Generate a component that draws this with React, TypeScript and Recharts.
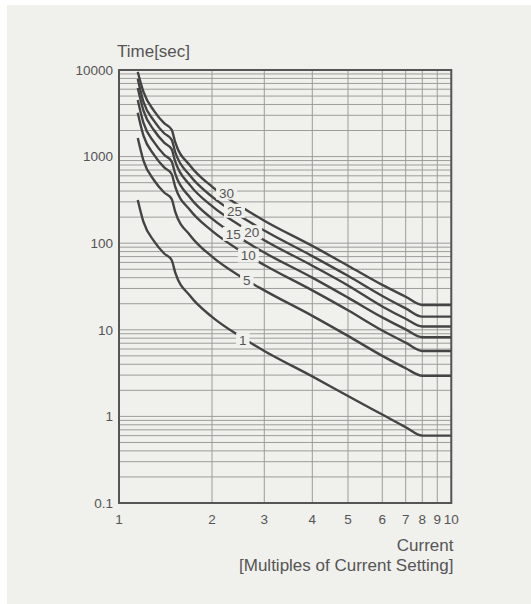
import { LineChart, Line, XAxis, YAxis, CartesianGrid, ReferenceArea, ReferenceDot } from "recharts";

// current multiples on the x axis and where the printed chart put each of them
// (the original grid is not a true log scale, so the axis is piecewise log)
const X_TICKS = [1, 2, 3, 4, 5, 6, 7, 8, 9, 10];
const X_TICK_AT = [0, 0.2799, 0.4372, 0.5817, 0.6891, 0.7923, 0.8627, 0.9127, 0.9578, 1];

const Y_TICKS = [0.1, 1, 10, 100, 1000, 10000];
const Y_MINOR = [2, 3, 4, 5, 6, 7, 8, 9];

const CURRENT = [1.15, 1.2, 1.3, 1.4, 1.48, 1.52, 1.7, 2, 2.5, 3, 4, 5, 6, 7, 8, 10];

const T1 = [315, 176, 105, 76, 64, 46, 24.5, 14.1, 8.3, 5.7, 2.9, 1.72, 1.05, 0.75, 0.6, 0.6];
const T5 = [1640, 900, 530, 385, 325, 232, 123, 70, 41, 28.5, 14.5, 8.5, 5.0, 3.6, 2.95, 2.95];
const T10 = [3200, 1750, 1040, 750, 630, 450, 240, 139, 81, 56, 28.5, 16.8, 9.8, 7.1, 5.7, 5.7];
const T15 = [4500, 2450, 1460, 1050, 880, 635, 335, 192, 113, 78, 40, 23.5, 13.9, 10.1, 8.2, 8.2];
const T20 = [6200, 3400, 2000, 1450, 1220, 880, 465, 268, 158, 108, 55, 32.5, 18.6, 13.4, 10.9, 10.9];
const T25 = [7900, 4300, 2570, 1860, 1570, 1130, 600, 345, 203, 140, 71, 42, 24.6, 17.7, 14.2, 14.2];
const T30 = [9500, 5600, 3350, 2430, 2050, 1470, 785, 450, 265, 182, 93, 55, 33, 24.1, 19.3, 19.3];

const CURVES = [
  { name: "1", values: T1 },
  { name: "5", values: T5 },
  { name: "10", values: T10 },
  { name: "15", values: T15 },
  { name: "20", values: T20 },
  { name: "25", values: T25 },
  { name: "30", values: T30 },
];

// where each curve's number sits (current, time)
const CURVE_LABELS = [
  { text: "30", x: 2.24, t: 383 },
  { text: "25", x: 2.38, t: 237 },
  { text: "15", x: 2.36, t: 128 },
  { text: "20", x: 2.72, t: 134 },
  { text: "10", x: 2.65, t: 72 },
  { text: "5", x: 2.62, t: 37 },
  { text: "1", x: 2.54, t: 7.6 },
];

const PANEL = "#f0f0ec";
const INK = "#555";
const CURVE_INK = "#444";
const FONT = '"Liberation Sans", Arial, Helvetica, sans-serif';

function toAxis(x: number) {
  for (let i = 0; i < X_TICKS.length - 1; i++) {
    const a = X_TICKS[i];
    const b = X_TICKS[i + 1];
    if (x <= b || i === X_TICKS.length - 2) {
      const f = Math.log(x / a) / Math.log(b / a);
      return X_TICK_AT[i] + f * (X_TICK_AT[i + 1] - X_TICK_AT[i]);
    }
  }
  return 1;
}

const yGrid: number[] = [];
for (const d of [0.1, 1, 10, 100, 1000]) {
  yGrid.push(d);
  for (const m of Y_MINOR) yGrid.push(d * m);
}
yGrid.push(10000);

function fmtX(u: number) {
  const i = X_TICK_AT.findIndex((p) => Math.abs(p - u) < 1e-6);
  return i >= 0 ? String(X_TICKS[i]) : "";
}

function fmtY(v: number) {
  return v < 1 ? String(v) : String(Math.round(v));
}

export default function App() {
  const series = CURVES.map((c) => ({
    name: c.name,
    data: CURRENT.map((x, i) => ({ u: toAxis(x), t: c.values[i] })),
  }));

  return (
    <div
      style={{
        position: "absolute",
        left: 7,
        top: 5,
        width: 524,
        height: 599,
        background: PANEL,
        fontFamily: FONT,
        color: INK,
      }}
    >
      <div style={{ position: "absolute", left: 110, top: 36.5, fontSize: 17, lineHeight: "20px" }}>Time[sec]</div>
      <div
        style={{
          position: "absolute",
          right: 77.5,
          top: 530.8,
          fontSize: 17,
          lineHeight: "20px",
          textAlign: "right",
          whiteSpace: "nowrap",
        }}
      >
        Current
        <br />
        [Multiples of Current Setting]
      </div>
      <LineChart width={524} height={599} margin={{ top: 65, right: 79.7, bottom: 71, left: 62 }}>
        <CartesianGrid
          horizontalValues={yGrid}
          verticalValues={X_TICK_AT}
          stroke="#9c9c9a"
          strokeWidth={1}
        />
        <XAxis
          type="number"
          dataKey="u"
          domain={[0, 1]}
          ticks={X_TICK_AT}
          interval={0}
          allowDataOverflow
          tickFormatter={fmtX}
          height={30}
          tickSize={0}
          tickMargin={11}
          axisLine={false}
          tick={{ fill: INK, fontSize: 13.5, fontFamily: FONT }}
        />
        <YAxis
          type="number"
          scale="log"
          domain={[0.1, 10000]}
          ticks={Y_TICKS}
          interval={0}
          allowDataOverflow
          tickFormatter={fmtY}
          width={50}
          tickSize={0}
          tickMargin={6}
          axisLine={false}
          tick={{ fill: INK, fontSize: 13.5, fontFamily: FONT }}
        />
        <ReferenceArea
          x1={0}
          x2={1}
          y1={0.1}
          y2={10000}
          fill="none"
          fillOpacity={0}
          stroke={INK}
          strokeWidth={2}
          ifOverflow="visible"
        />
        {series.map((s) => (
          <Line
            key={s.name}
            data={s.data}
            dataKey="t"
            type="monotone"
            stroke={CURVE_INK}
            strokeWidth={2.4}
            dot={false}
            activeDot={false}
            isAnimationActive={false}
          />
        ))}
        {CURVE_LABELS.map((l) => (
          <ReferenceDot
            key={l.text}
            x={toAxis(l.x)}
            y={l.t}
            r={0}
            ifOverflow="visible"
            shape={(p: any) => {
              const w = l.text.length * 7.5 + 6;
              return (
                <g>
                  <rect x={p.cx - w / 2} y={p.cy - 7} width={w} height={14} fill={PANEL} />
                  <text
                    x={p.cx}
                    y={p.cy}
                    dy="0.36em"
                    textAnchor="middle"
                    fontSize={13.5}
                    fontFamily={FONT}
                    fill={INK}
                  >
                    {l.text}
                  </text>
                </g>
              );
            }}
          />
        ))}
      </LineChart>
    </div>
  );
}
